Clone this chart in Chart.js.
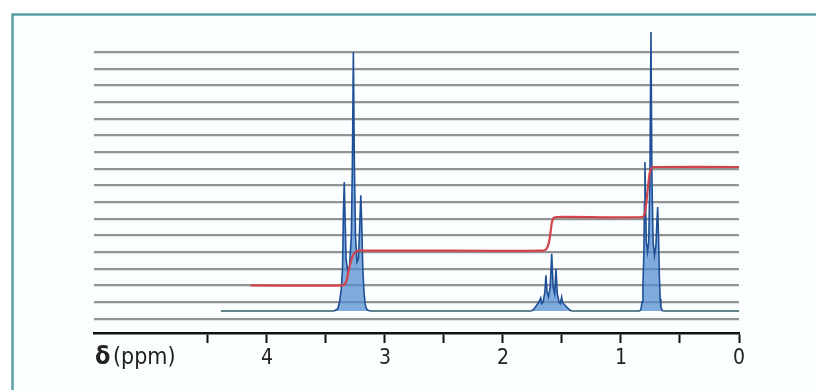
<!DOCTYPE html>
<html>
<head>
<meta charset="utf-8">
<style>
  html, body { margin: 0; padding: 0; background: #fff; }
  #wrap { width: 816px; height: 390px; }
</style>
<script src="https://cdn.jsdelivr.net/npm/chart.js@4.4.1/dist/chart.umd.min.js"></script>
</head>
<body>
<div id="wrap"><canvas id="nmr" width="816" height="390"></canvas></div>
<script>
// spectrum trace (ppm, height in grid steps)
const spectrumPpm = [
  4.39, 3.43, 3.40, 3.385, 3.37, 3.36, 3.352, 3.345, 3.338, 3.33, 3.315, 3.30, 3.285, 3.276, 3.268, 3.26, 3.25, 3.238, 3.225, 3.214, 3.205, 3.196, 3.188, 3.178, 3.168, 3.158, 3.145, 3.12,
  1.76, 1.74, 1.72, 1.70, 1.69, 1.68, 1.672, 1.66, 1.645, 1.636, 1.627, 1.615, 1.60, 1.587, 1.575, 1.562, 1.551, 1.54, 1.525, 1.515, 1.503, 1.495, 1.48, 1.46, 1.44, 1.42,
  0.84, 0.83, 0.822, 0.814, 0.806, 0.801, 0.797, 0.792, 0.785, 0.775, 0.765, 0.755, 0.746, 0.738, 0.728, 0.716, 0.704, 0.696, 0.689, 0.682, 0.675, 0.668, 0.662, 0.652, 0.64, 0
];
const spectrumHeight = [
  0.46, 0.46, 0.6, 1.0, 1.8, 3.0, 6.5, 8.2, 6.0, 3.6, 2.8, 3.2, 5.0, 9.5, 16.0, 9.5, 5.0, 3.4, 3.6, 5.6, 7.4, 5.4, 3.0, 1.6, 0.9, 0.6, 0.5, 0.46,
  0.46, 0.55, 0.75, 0.95, 1.1, 1.25, 0.9, 1.0, 1.6, 2.6, 1.6, 1.3, 1.9, 3.9, 1.9, 1.5, 3.0, 1.5, 1.0, 0.9, 1.3, 0.95, 0.85, 0.7, 0.55, 0.46,
  0.46, 0.6, 1.0, 2.0, 4.0, 7.0, 9.4, 7.0, 4.6, 4.0, 4.6, 8.5, 17.2, 8.5, 4.6, 3.8, 4.4, 5.8, 6.7, 5.0, 2.6, 1.2, 0.7, 0.5, 0.46, 0.46
];

// integration curve
const integralPpm = [4.14, 3.36, 3.33, 3.31, 3.29, 3.27, 3.25, 3.22, 1.66, 1.63, 1.61, 1.595, 1.585, 1.57, 1.54, 0.82, 0.80, 0.785, 0.77, 0.755, 0.74, 0.72, 0];
const integralHeight = [2.0, 2.0, 2.2, 2.8, 3.4, 3.8, 4.0, 4.08, 4.08, 4.2, 4.6, 5.3, 5.8, 6.05, 6.1, 6.1, 6.3, 7.0, 8.0, 8.8, 9.05, 9.1, 9.1];

const baseline = 0.46;
const xTicks = [0, 0.5, 1, 1.5, 2, 2.5, 3, 3.5, 4, 4.5];
const gridLevels = [0, 1, 2, 3, 4, 5, 6, 7, 8, 9, 10, 11, 12, 13, 14, 15, 16];

const fontFamily = "'DejaVu Sans Condensed', 'Liberation Sans', sans-serif";

const framePlugin = {
  id: 'frame',
  beforeDraw(chart) {
    const c = chart.ctx;
    c.save();
    c.fillStyle = '#ffffff';
    c.fillRect(0, 0, chart.width, chart.height);
    c.fillStyle = '#fbfefe';
    c.fillRect(13, 15, chart.width, chart.height);
    c.strokeStyle = '#5b9ea6';
    c.lineWidth = 2.5;
    c.strokeRect(12.5, 14.5, chart.width + 20, chart.height + 20);
    c.restore();
  },
  afterDraw(chart) {
    const c = chart.ctx;
    c.save();
    c.fillStyle = '#222';
    c.textBaseline = 'middle';
    c.font = 'bold 25px ' + fontFamily;
    c.fillText('δ', 95, 357);
    c.font = '23px ' + fontFamily;
    c.fillText('(ppm)', 113, 358);
    c.restore();
  }
};

const onBaseline = ctx => ctx.p0.parsed.y <= baseline + 0.01 && ctx.p1.parsed.y <= baseline + 0.01;

new Chart(document.getElementById('nmr'), {
  type: 'line',
  data: {
    datasets: [
      {
        label: 'Integral',
        data: integralPpm.map((x, i) => ({ x, y: integralHeight[i] })),
        borderColor: '#d2444c',
        borderWidth: 2.2,
        pointRadius: 0,
        fill: false,
        tension: 0.3
      },
      {
        label: 'Spectrum',
        data: spectrumPpm.map((x, i) => ({ x, y: spectrumHeight[i] })),
        borderColor: '#1f4f96',
        borderWidth: 1.6,
        backgroundColor: 'rgba(80,140,208,0.72)',
        fill: { value: baseline },
        pointRadius: 0,
        tension: 0,
        segment: {
          borderColor: ctx => onBaseline(ctx) ? '#2f5d6b' : undefined
        }
      }
    ]
  },
  options: {
    responsive: false,
    animation: false,
    layout: { padding: { left: 94, right: 77, top: 27, bottom: 0 } },
    plugins: {
      legend: { display: false },
      tooltip: { enabled: false }
    },
    scales: {
      x: {
        type: 'linear',
        reverse: true,
        min: 0,
        max: 5.466,
        afterBuildTicks: s => { s.ticks = xTicks.map(v => ({ value: v })); },
        afterFit: s => { s.height = 57; },
        ticks: {
          callback: v => Number.isInteger(v) ? String(v) : '',
          font: { family: fontFamily, size: 21 },
          color: '#222',
          maxRotation: 0,
          autoSkip: false,
          padding: 3
        },
        grid: {
          drawOnChartArea: false,
          drawTicks: true,
          tickLength: 10,
          tickWidth: 2,
          tickColor: '#111'
        },
        border: { display: true, color: '#111', width: 2.5 }
      },
      y: {
        min: -0.86,
        max: 17.5,
        afterBuildTicks: s => { s.ticks = gridLevels.map(v => ({ value: v })); },
        afterFit: s => { s.width = 0; },
        ticks: { display: false },
        grid: { color: '#939393', lineWidth: 2.2, drawTicks: false },
        border: { display: false }
      }
    }
  },
  plugins: [framePlugin]
});
</script>
</body>
</html>
